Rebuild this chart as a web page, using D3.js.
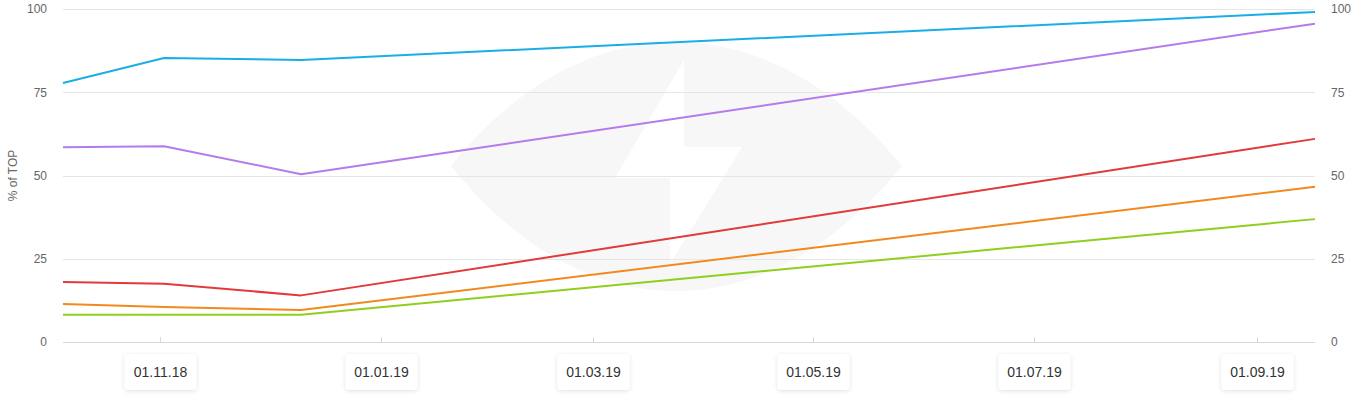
<!DOCTYPE html>
<html>
<head>
<meta charset="utf-8">
<script src="https://cdn.jsdelivr.net/npm/d3@7"></script>
<style>
  body { margin: 0; background: #fff; font-family: "Liberation Sans", Arial, sans-serif; }
</style>
</head>
<body>
<div id="chart"></div>
<script>
const dates = ["2018-10-05", "2018-11-02", "2018-12-10", "2019-09-17"];
const blueValues = [77.8, 85.3, 84.7, 99.1];
const purpleValues = [58.5, 58.8, 50.4, 95.6];
const redValues = [18.0, 17.5, 14.0, 61.0];
const orangeValues = [11.4, 10.5, 9.6, 46.6];
const greenValues = [8.2, 8.2, 8.2, 36.9];
const tickDates = ["2018-11-01", "2019-01-01", "2019-03-01", "2019-05-01", "2019-07-01", "2019-09-01"];
const yTicks = [0, 25, 50, 75, 100];

const series = [
  { name: "blue", color: "#1aaee6", values: blueValues },
  { name: "purple", color: "#b57bec", values: purpleValues },
  { name: "red", color: "#e3393a", values: redValues },
  { name: "orange", color: "#f08a1c", values: orangeValues },
  { name: "green", color: "#8fcf1e", values: greenValues }
];

const width = 1357, height = 397;
const plotLeft = 63, plotRight = 1315, plotTop = 9, plotBottom = 342;
const parse = d3.timeParse("%Y-%m-%d");
const fmt = d3.timeFormat("%d.%m.%y");

const svg = d3.select("#chart").append("svg")
  .attr("width", width)
  .attr("height", height);

const defs = svg.append("defs");
const shadow = defs.append("filter").attr("id", "shadow")
  .attr("x", "-30%").attr("y", "-30%").attr("width", "160%").attr("height", "170%");
shadow.append("feDropShadow")
  .attr("dx", 0).attr("dy", 1).attr("stdDeviation", 2)
  .attr("flood-color", "#000").attr("flood-opacity", 0.12);

const x = d3.scaleTime()
  .domain([parse(dates[0]), parse(dates[dates.length - 1])])
  .range([plotLeft, plotRight]);
const y = d3.scaleLinear().domain([0, 100]).range([plotBottom, plotTop]);

// watermark (eye with lightning bolt cut out)
svg.append("path")
  .attr("fill", "#f7f7f7")
  .attr("fill-rule", "evenodd")
  .attr("d", "M451,166 C520,80 600,42 676,42 C752,42 832,80 902,166 C832,252 752,291 676,291 C600,291 520,252 451,166 Z " +
    "M684,60 L684,147 L742,147 L670,264 L670,178 L615,178 Z");

// grid
svg.append("g").selectAll("line")
  .data(yTicks)
  .join("line")
  .attr("x1", plotLeft).attr("x2", plotRight)
  .attr("y1", d => Math.round(y(d)) + 0.5)
  .attr("y2", d => Math.round(y(d)) + 0.5)
  .attr("stroke", d => d === 0 ? "#d8d8d8" : "#e6e6e6");

// left / right axes
const yAxisLeft = d3.axisLeft(y).tickValues(yTicks).tickSize(0).tickPadding(16);
const yAxisRight = d3.axisRight(y).tickValues(yTicks).tickSize(0).tickPadding(16);
[svg.append("g").attr("transform", `translate(${plotLeft},0)`).call(yAxisLeft),
 svg.append("g").attr("transform", `translate(${plotRight},0)`).call(yAxisRight)].forEach(g => {
  g.select(".domain").remove();
  g.selectAll("text")
    .attr("fill", "#666")
    .style("font-size", "12px")
    .style("font-family", "'Liberation Sans', Arial, sans-serif");
});

svg.append("text")
  .attr("transform", `translate(17,${(plotTop + plotBottom) / 2}) rotate(-90)`)
  .attr("text-anchor", "middle")
  .attr("fill", "#666")
  .style("font-size", "12px")
  .text("% of TOP");

// x ticks
const xt = svg.append("g");
tickDates.forEach(t => {
  const px = Math.round(x(parse(t))) + 0.5;
  xt.append("line")
    .attr("x1", px).attr("x2", px)
    .attr("y1", plotBottom - 5).attr("y2", plotBottom)
    .attr("stroke", "#d0dbe8");
  const g = xt.append("g").attr("transform", `translate(${px},372)`);
  g.append("rect")
    .attr("x", -36).attr("y", -18)
    .attr("width", 72).attr("height", 36)
    .attr("rx", 4)
    .attr("fill", "#fff")
    .attr("filter", "url(#shadow)");
  g.append("text")
    .attr("text-anchor", "middle")
    .attr("dy", "0.35em")
    .attr("fill", "#333")
    .style("font-size", "14px")
    .text(fmt(parse(t)));
});

// lines
const line = d3.line()
  .x((d, i) => x(parse(dates[i])))
  .y(d => y(d));

svg.append("g").selectAll("path")
  .data(series)
  .join("path")
  .attr("d", d => line(d.values))
  .attr("fill", "none")
  .attr("stroke", d => d.color)
  .attr("stroke-width", 2)
  .attr("stroke-linejoin", "round");
</script>
</body>
</html>
